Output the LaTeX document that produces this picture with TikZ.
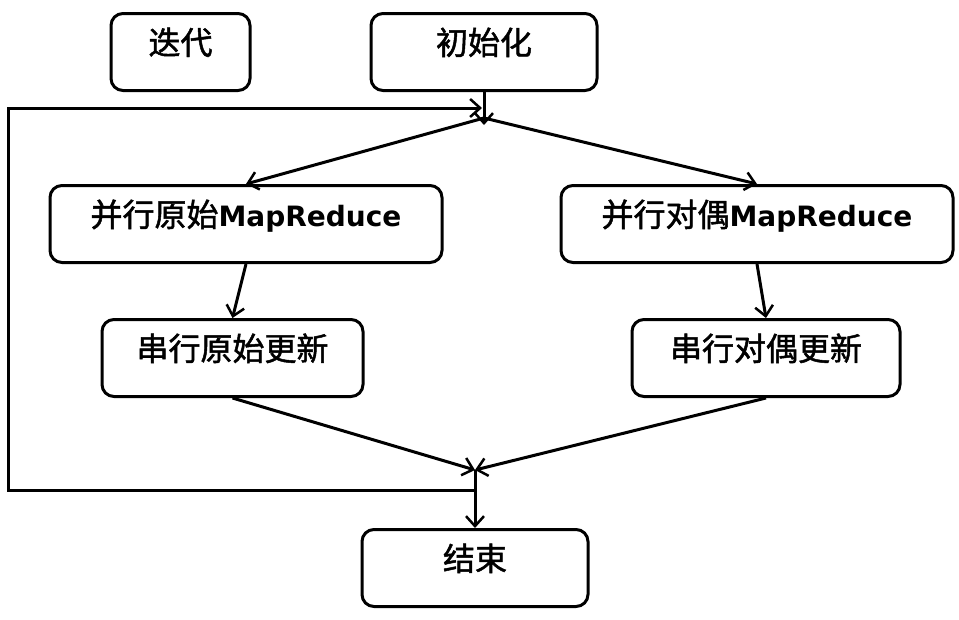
\documentclass[tikz,border=0pt]{standalone}
\usepackage{fontspec}
\newfontfamily\cjk{Noto Sans CJK SC}[FakeBold=1.5]
\newfontfamily\mrfont{DejaVu Sans}
\usetikzlibrary{arrows.meta}
\newcommand{\mr}{{\mrfont\bfseries\fontsize{28}{28}\selectfont MapReduce}}
\tikzset{
  box/.style={draw,line width=3pt,rounded corners=12pt,anchor=north,
    inner xsep=0pt,inner ysep=0pt,text height=41pt,text depth=36pt,
    font=\cjk\fontsize{32}{32}\selectfont},
  arr/.style={line width=3pt,-{Straight Barb[length=10pt,width=18pt,line width=2.5pt]}}
}
\begin{document}
\begin{tikzpicture}[x=1pt,y=-1pt]
	\useasboundingbox (0,0) rectangle (959,619);
	\node[box,minimum width=139pt] (iter) at (180.5,12) {迭代};
	\node[box,minimum width=226pt] (init) at (484,12) {初始化};
	\node[box,minimum width=392pt] (pmr) at (246,184) {并行原始\mr};
	\node[box,minimum width=392pt] (dmr) at (757,184) {并行对偶\mr};
	\node[box,minimum width=261pt] (pupd) at (232.5,318) {串行原始更新};
	\node[box,minimum width=268pt] (dupd) at (766,318) {串行对偶更新};
	\node[box,minimum width=226pt] (end) at (475,528) {结束};
	\coordinate (split) at (484,118);
	\coordinate (merge) at (475,470);
	\coordinate (back) at (475,490);
	\draw[arr] (init.south) -- (484,125);
	\draw[arr] (split) -- (pmr.north);
	\draw[arr] (split) -- (dmr.north);
	\draw[arr] (pmr.south) -- (pupd.north);
	\draw[arr] (dmr.south) -- (dupd.north);
	\draw[arr] (pupd.south) -- (merge);
	\draw[arr] (dupd.south) -- (merge);
	\draw[arr] (merge) -- (end.north);
	\draw[arr] (back) -- (8,490) -- (8,108) -- (482,108);
\end{tikzpicture}
\end{document}
